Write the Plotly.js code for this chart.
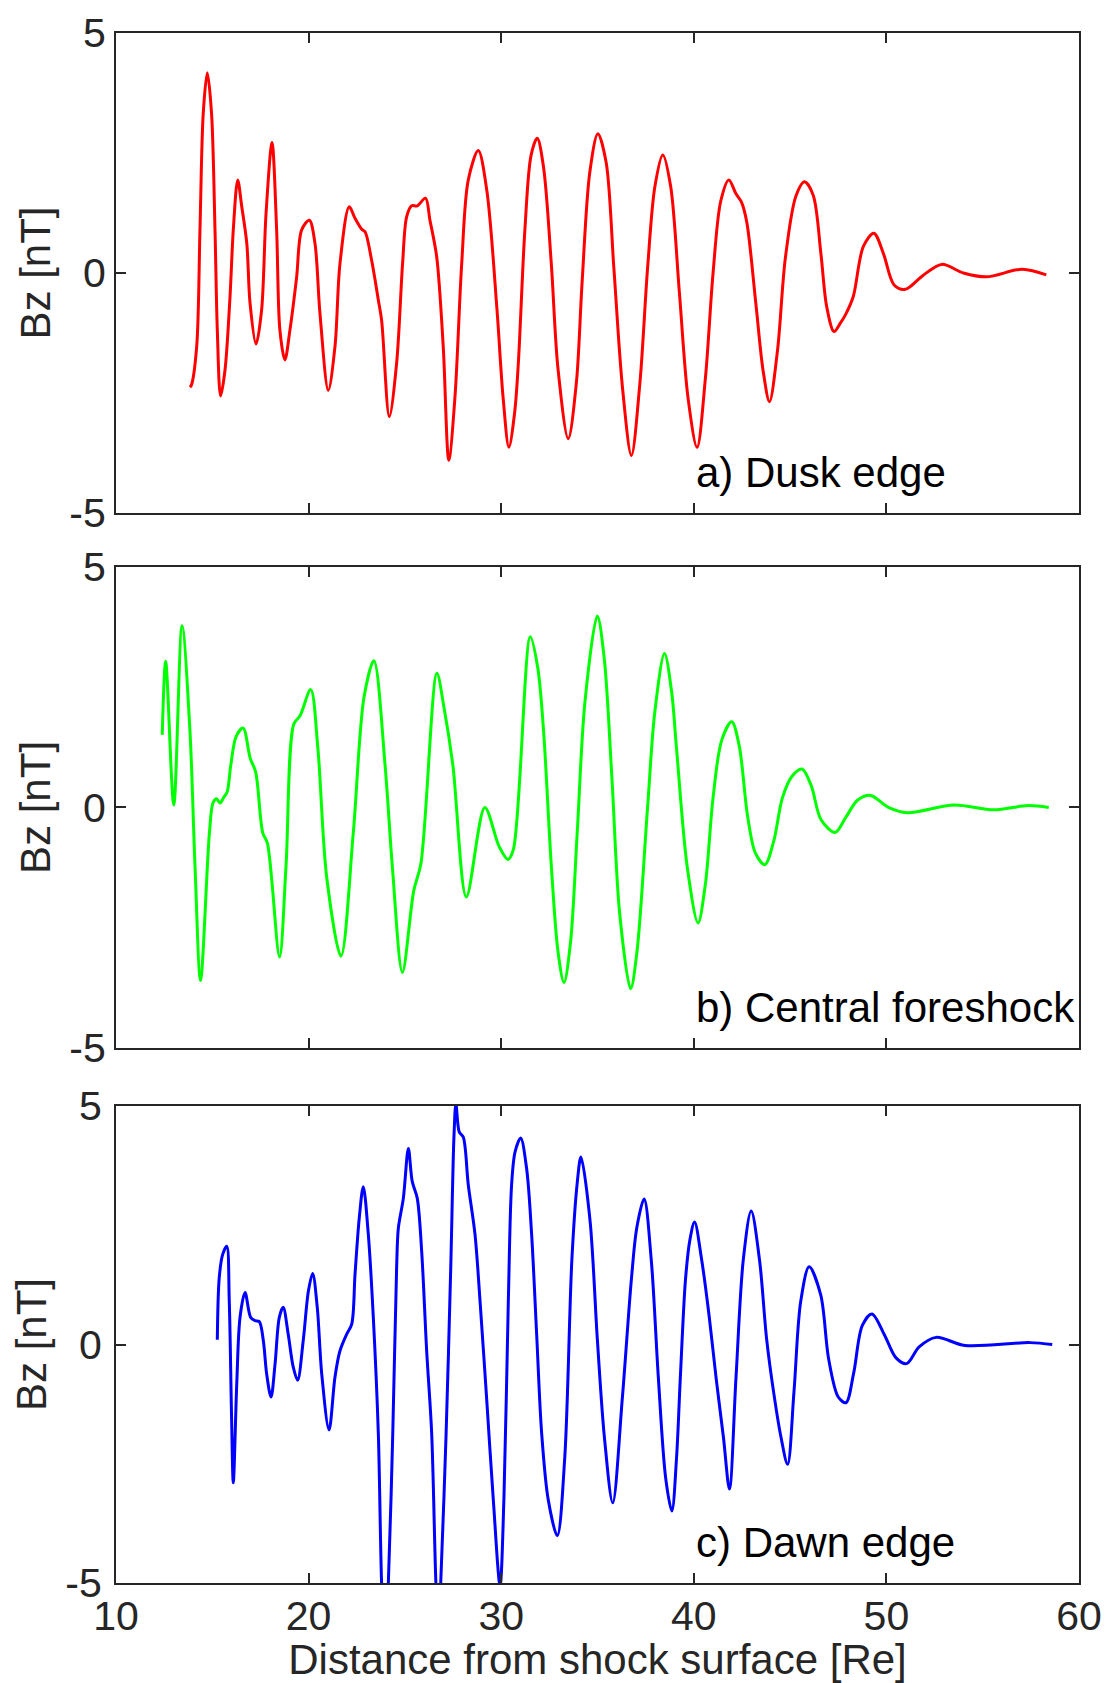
<!DOCTYPE html>
<html>
<head>
<meta charset="utf-8">
<script src="https://cdn.plot.ly/plotly-3.0.1.min.js"></script>
<style>
  html, body { margin: 0; padding: 0; background: #ffffff; }
  #chart { width: 1107px; height: 1683px; }
</style>
</head>
<body>
<div id="chart"></div>
<script>
// ---- Data ----
// Panel a) Dusk edge
const duskX = [13.84, 13.92, 14.19, 14.36, 14.53, 14.74, 14.96, 15.14, 15.26, 15.43, 15.66, 15.92, 16.09, 16.32, 16.53, 16.79, 16.96, 17.27, 17.56, 17.79, 18.1, 18.34, 18.51, 18.77, 19.03, 19.38, 19.64, 20.04, 20.33, 20.59, 21.02, 21.37, 21.63, 22.11, 22.41, 22.76, 22.93, 23.27, 23.62, 23.79, 24.19, 24.57, 24.88, 25.09, 25.35, 25.64, 26.07, 26.3, 26.65, 26.99, 27.28, 27.6, 27.95, 28.29, 28.81, 29.25, 29.77, 30.1, 30.4, 30.7, 30.89, 31.23, 31.55, 31.87, 32.2, 32.6, 32.95, 33.48, 33.9, 34.2, 34.6, 35.02, 35.45, 35.85, 36.3, 36.76, 37.2, 37.6, 37.98, 38.39, 38.8, 39.25, 39.7, 40.17, 40.6, 41.0, 41.4, 41.82, 42.19, 42.47, 42.75, 43.22, 43.6, 43.93, 44.35, 44.75, 45.3, 45.75, 46.2, 46.6, 46.9, 47.28, 47.6, 47.9, 48.28, 48.8, 49.35, 49.85, 50.4, 50.99, 51.9, 52.87, 54.0, 55.2, 57.06, 58.3];
const duskBz = [-2.38, -2.33, -1.53, 0.9, 3.33, 4.17, 3.33, 0.9, -1.19, -2.56, -2.02, -0.49, 0.9, 1.94, 1.38, 0.62, -0.63, -1.48, -0.77, 1.24, 2.72, 0.9, -1.19, -1.81, -1.19, -0.08, 0.9, 1.1, 0.62, -0.84, -2.44, -1.53, 0.2, 1.38, 1.14, 0.91, 0.86, 0.27, -0.56, -0.98, -2.99, -1.88, 0.2, 1.17, 1.4, 1.4, 1.56, 1.1, 0.34, -1.53, -3.9, -2.58, 0.2, 1.94, 2.55, 1.73, -0.7, -2.6, -3.63, -2.9, -1.88, 0.9, 2.45, 2.81, 2.2, 0.2, -2.0, -3.45, -2.3, -0.2, 2.1, 2.9, 2.3, 0.1, -2.4, -3.8, -2.3, 0.1, 1.8, 2.46, 1.8, -0.4, -2.6, -3.63, -2.2, 0.0, 1.5, 1.94, 1.65, 1.48, 1.06, -0.63, -2.04, -2.68, -1.6, 0.3, 1.6, 1.9, 1.62, 0.4, -0.7, -1.22, -1.05, -0.85, -0.49, 0.55, 0.83, 0.4, -0.25, -0.34, -0.05, 0.18, 0.0, -0.08, 0.08, -0.04];

// Panel b) Central foreshock
const centralX = [12.4, 12.58, 13.0, 13.43, 13.84, 14.1, 14.39, 14.85, 15.04, 15.22, 15.41, 15.59, 15.77, 15.96, 16.24, 16.6, 16.97, 17.25, 17.62, 17.86, 18.49, 18.83, 19.23, 19.56, 20.11, 20.48, 20.94, 21.68, 22.32, 22.88, 23.39, 23.97, 24.35, 24.87, 25.46, 25.83, 26.66, 27.03, 27.49, 28.19, 29.15, 29.89, 30.35, 30.63, 31.51, 31.9, 32.2, 32.6, 32.95, 33.26, 33.6, 33.95, 34.35, 34.99, 35.35, 35.75, 36.15, 36.72, 37.05, 37.6, 37.98, 38.48, 38.85, 39.1, 39.66, 40.22, 40.6, 41.0, 41.45, 41.97, 42.35, 42.8, 43.2, 43.69, 44.15, 44.6, 45.1, 45.62, 46.1, 46.6, 47.34, 47.9, 48.5, 49.18, 50.1, 51.09, 53.52, 55.57, 57.36, 58.43];
const centralBz = [1.51, 3.04, 0.05, 3.78, 1.59, -1.2, -3.6, -0.53, 0.1, 0.18, 0.09, 0.21, 0.32, 0.88, 1.48, 1.65, 1.02, 0.74, -0.53, -0.74, -3.11, -1.2, 1.73, 1.91, 2.45, 1.24, -1.45, -3.09, -0.53, 2.3, 3.05, 0.88, -1.24, -3.43, -1.73, -1.17, 2.79, 2.08, 0.88, -1.86, 0.0, -0.81, -1.08, -0.88, 3.55, 2.9, 1.59, -1.2, -3.0, -3.64, -2.8, -0.5, 2.2, 3.98, 3.1, 0.6, -2.2, -3.77, -3.0, 0.0, 2.0, 3.2, 2.4, 1.24, -1.24, -2.4, -1.6, 0.2, 1.4, 1.78, 1.3, -0.2, -0.95, -1.19, -0.7, 0.2, 0.65, 0.8, 0.45, -0.25, -0.52, -0.2, 0.15, 0.25, 0.0, -0.11, 0.05, -0.05, 0.04, 0.0];

// Panel c) Dawn edge
const dawnX = [15.26, 15.36, 15.54, 15.75, 15.88, 16.0, 16.09, 16.27, 16.44, 16.7, 16.99, 17.22, 17.44, 17.65, 17.82, 18.05, 18.26, 18.48, 18.68, 18.94, 19.2, 19.43, 19.72, 19.99, 20.21, 20.45, 20.68, 21.06, 21.37, 21.63, 21.98, 22.24, 22.41, 22.63, 22.84, 23.1, 23.36, 23.62, 23.79, 23.96, 24.14, 24.37, 24.57, 24.66, 24.92, 25.18, 25.38, 25.64, 25.87, 26.13, 26.39, 26.61, 26.74, 26.86, 27.14, 27.38, 27.55, 27.65, 27.82, 28.03, 28.29, 28.64, 28.9, 29.25, 29.59, 29.94, 30.14, 30.37, 30.54, 30.72, 31.01, 31.32, 31.58, 31.84, 32.1, 32.44, 32.91, 33.3, 33.67, 33.95, 34.14, 34.61, 34.99, 35.36, 35.79, 36.29, 36.76, 37.04, 37.42, 37.79, 38.16, 38.54, 38.86, 39.1, 39.3, 39.57, 39.8, 40.04, 40.4, 40.79, 41.16, 41.54, 41.85, 42.19, 42.57, 42.98, 43.41, 43.78, 44.16, 44.53, 44.87, 45.2, 45.55, 45.99, 46.59, 47.0, 47.5, 47.9, 48.3, 48.75, 49.25, 49.9, 50.5, 51.05, 51.7, 52.58, 54.08, 57.45, 58.61];
const dawnBz = [0.1, 1.4, 1.89, 2.06, 0.92, -1.51, -2.9, -0.82, 0.57, 1.09, 0.57, 0.5, 0.48, 0.08, -0.61, -1.1, -0.4, 0.57, 0.78, 0.22, -0.47, -0.75, 0.08, 1.12, 1.49, 0.78, -0.61, -1.79, -0.68, -0.13, 0.22, 0.43, 1.47, 2.65, 3.31, 2.31, 0.57, -1.86, -5.0, -6.4, -5.0, -1.86, 1.61, 2.44, 3.07, 4.11, 3.42, 3.07, 1.96, -0.13, -1.86, -5.0, -6.0, -5.0, -1.86, 1.61, 4.39, 5.05, 4.46, 4.35, 3.35, 2.31, 0.92, -1.17, -3.25, -5.05, -3.25, 0.92, 3.35, 4.04, 4.33, 3.69, 2.31, 0.22, -1.86, -3.25, -4.01, -2.37, 1.78, 3.4, 3.93, 2.61, 0.12, -1.95, -3.32, -1.12, 1.37, 2.45, 3.05, 1.78, -0.7, -2.8, -3.49, -2.4, -0.7, 1.37, 2.2, 2.57, 1.8, 0.62, -0.71, -1.95, -3.03, -0.7, 1.78, 2.8, 1.78, 0.12, -1.04, -1.95, -2.51, -1.0, 0.9, 1.63, 1.04, -0.3, -1.1, -1.22, -0.6, 0.4, 0.64, 0.2, -0.28, -0.4, -0.05, 0.15, -0.02, 0.04, 0.0];

const xTickVals = [10, 20, 30, 40, 50, 60];
const yTickVals = [-5, 0, 5];
const yTickText = ['-5', '0', '5'];
const panelLabels = ['a) Dusk edge', 'b) Central foreshock', 'c) Dawn edge'];
const xTitle = 'Distance from shock surface [Re]';
const yTitle = 'Bz [nT]';

// ---- Styling ----
const FONT = 'Liberation Sans, Arial, Helvetica, sans-serif';
const AX = '#262626';
const tickFont = {family: FONT, size: 41, color: AX};
const titleFont = {family: FONT, size: 42, color: AX};

function xAxis(anchor, showLabels) {
  return {
    anchor: anchor, range: [10, 60], tickmode: 'array', tickvals: xTickVals,
    showticklabels: showLabels, ticks: 'inside', ticklen: 10, tickwidth: 2, tickcolor: AX,
    showline: true, mirror: 'ticks', linecolor: AX, linewidth: 2,
    showgrid: false, zeroline: false, tickfont: tickFont, ticklabelstandoff: -4,
    automargin: false, fixedrange: true
  };
}
function yAxis(anchor, domain, standoff) {
  return {
    anchor: anchor, domain: domain, range: [-5, 5], tickmode: 'array',
    tickvals: yTickVals, ticktext: yTickText,
    ticks: 'inside', ticklen: 10, tickwidth: 2, tickcolor: AX,
    showline: true, mirror: 'ticks', linecolor: AX, linewidth: 2,
    showgrid: false, zeroline: false, tickfont: tickFont, ticklabelstandoff: standoff,
    title: {text: yTitle, font: titleFont, standoff: 6},
    automargin: false, fixedrange: true
  };
}

const lineOpts = (c) => ({color: c, width: 3, shape: 'spline', smoothing: 0.9});

const traces = [
  {x: duskX, y: duskBz, xaxis: 'x', yaxis: 'y', mode: 'lines', line: lineOpts('#ff0000'), name: panelLabels[0]},
  {x: centralX, y: centralBz, xaxis: 'x2', yaxis: 'y2', mode: 'lines', line: lineOpts('#00ff00'), name: panelLabels[1]},
  {x: dawnX, y: dawnBz, xaxis: 'x3', yaxis: 'y3', mode: 'lines', line: lineOpts('#0000ff'), name: panelLabels[2]}
];

const annFont = {family: FONT, size: 42, color: '#000000'};
const layout = {
  width: 1107, height: 1683,
  margin: {l: 116, r: 28, t: 33, b: 100},
  paper_bgcolor: '#ffffff', plot_bgcolor: '#ffffff',
  showlegend: false,
  xaxis: xAxis('y', false),
  yaxis: yAxis('x', [0.6903, 1], 0),
  xaxis2: xAxis('y2', false),
  yaxis2: yAxis('x2', [0.3452, 0.6555], 0),
  xaxis3: Object.assign(xAxis('y3', true), {title: {text: xTitle, font: titleFont, standoff: 14}}),
  yaxis3: yAxis('x3', [0, 0.3077], 4),
  annotations: [
    {xref: 'x', yref: 'y', x: 40, y: -4.15, text: panelLabels[0], showarrow: false, xanchor: 'left', yanchor: 'middle', font: annFont},
    {xref: 'x2', yref: 'y2', x: 40, y: -4.15, text: panelLabels[1], showarrow: false, xanchor: 'left', yanchor: 'middle', font: annFont},
    {xref: 'x3', yref: 'y3', x: 40, y: -4.15, text: panelLabels[2], showarrow: false, xanchor: 'left', yanchor: 'middle', font: annFont}
  ]
};

Plotly.newPlot('chart', traces, layout, {staticPlot: true, displayModeBar: false});
</script>
</body>
</html>
